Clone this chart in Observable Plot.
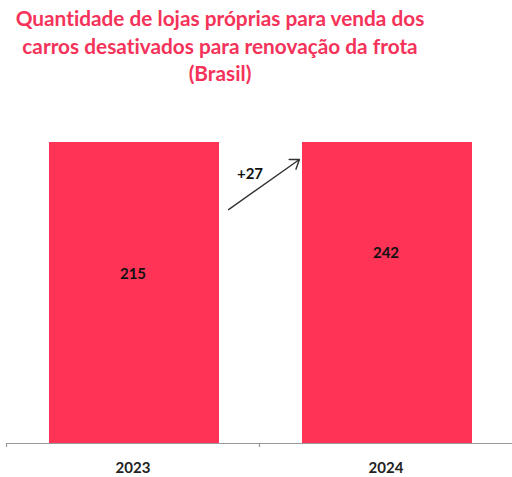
<!DOCTYPE html>
<html>
<head>
<meta charset="utf-8">
<script src="https://cdn.jsdelivr.net/npm/d3@7"></script>
<script src="https://cdn.jsdelivr.net/npm/@observablehq/plot@0.6"></script>
<style>
  html, body { margin: 0; padding: 0; background: #fff; }
  #wrap { width: 512px; }
  #title {
    width: 440px;
    padding-top: 4px;
    text-align: center;
    font-family: Lato, "Open Sans", sans-serif;
    font-weight: bold;
    font-size: 20.8px;
    line-height: 27.5px;
    color: #F5335A;
    height: 84px;
    white-space: nowrap;
    font-variant-ligatures: none;
    font-feature-settings: "liga" 0;
  }
  svg { display: block; }
</style>
</head>
<body>
<div id="wrap">
  <div id="title">Quantidade de lojas próprias para venda dos<br>carros desativados para renovação da frota<br>(Brasil)</div>
  <div id="chart"></div>
</div>
<script>
const years = ["2023", "2024"];
const values = [215, 242];
const yMax = 191; // visible axis maximum of the original chart (bars clipped)
const change = values[1] - values[0];
// arrow annotation, in data units
const arrowY = [105.6, 219];
const changeLabelY = 170.7;

const data = years.map((year, i) => ({year, value: values[i]}));

const chart = Plot.plot({
  width: 512,
  height: 389,
  marginLeft: 6,
  marginRight: 0,
  marginTop: 54,
  marginBottom: 34,
  x: {type: "band", domain: years, padding: 0, label: null},
  y: {domain: [0, yMax], axis: null},
  marks: [
    Plot.barY(data, {x: "year", y: "value", fill: "#FF3355", insetLeft: 43, insetRight: 40, clip: true}),
    Plot.ruleY([0], {stroke: "#999", strokeWidth: 1.2}),
    Plot.ruleX(years, {x: d => d, dx: -126.5, y1: 0, y2: -2.6, stroke: "#999", strokeWidth: 1.2}),
    Plot.axisX({tickSize: 0, tickPadding: 19, fontSize: 15, fontWeight: "bold", color: "#222", fontFamily: "Lato, sans-serif"}),
    Plot.text(data, {x: "year", y: d => d.value / 2, text: d => String(d.value), fontSize: 15, fontWeight: "bold", fill: "#111", fontFamily: "Lato, sans-serif"}),
    Plot.arrow([{x1: years[0], x2: years[1], y1: arrowY[0], y2: arrowY[1]}], {
      x1: "x1", x2: "x2", y1: "y1", y2: "y2",
      insetStart: 117, insetEnd: 106, stroke: "#333", strokeWidth: 1.4, headLength: 11, headAngle: 70
    }),
    Plot.text([{year: years[0], label: `+${change}`}], {x: "year", y: () => changeLabelY, text: "label", dx: 117, fontSize: 15, fontWeight: "bold", fill: "#111", fontFamily: "Lato, sans-serif"})
  ]
});
chart.style.fontFamily = "Lato, sans-serif";
document.getElementById("chart").appendChild(chart);
</script>
</body>
</html>
